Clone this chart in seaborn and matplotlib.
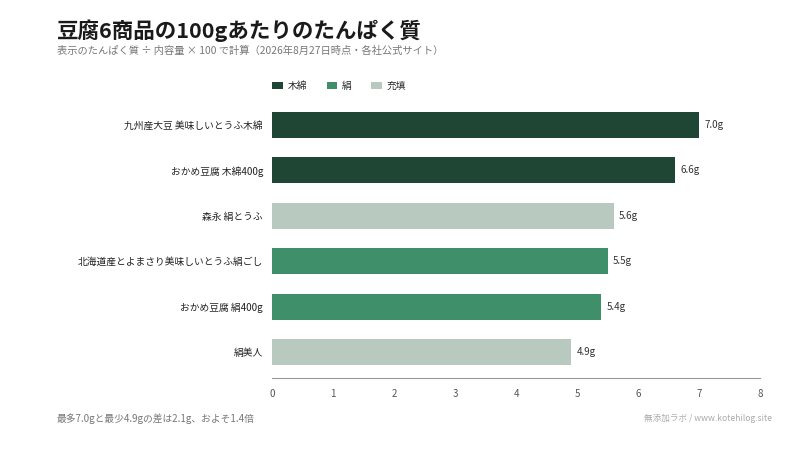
import pandas as pd
import matplotlib.pyplot as plt
import seaborn as sns

# values
products = ['九州産大豆 美味しいとうふ木綿', 'おかめ豆腐 木綿400g', '森永 絹とうふ',
            '北海道産とよまさり美味しいとうふ絹ごし', 'おかめ豆腐 絹400g', '絹美人']
protein = [7.0, 6.6, 5.6, 5.5, 5.4, 4.9]
kind = ['木綿', '木綿', '充填', '絹', '絹', '充填']
kind_order = ['木綿', '絹', '充填']
colors = {'木綿': '#1f4535', '絹': '#3f8f6a', '充填': '#b8c9bf'}

df = pd.DataFrame({'product': products, 'protein': protein, 'kind': kind})

sns.set_theme(style='white')
plt.rcParams['font.family'] = ['Noto Sans CJK JP', 'DejaVu Sans']

fig = plt.figure(figsize=(8, 4.5), dpi=100)
ax = fig.add_axes([0.34, 0.16, 0.61, 0.615])

sns.barplot(data=df, y='product', x='protein', hue='kind', hue_order=kind_order,
            order=products, palette=colors, dodge=False, width=0.575,
            saturation=1, linewidth=0, ax=ax, legend=True)

for c in ax.containers:
    ax.bar_label(c, fmt='{:.1f}g', padding=4, fontsize=7, color='#333333')

ax.set_xlim(0, 8)
ax.set_ylim(5.57, -0.52)
ax.set_xticks(range(0, 9))
ax.set_xlabel('')
ax.set_ylabel('')
ax.tick_params(axis='x', labelsize=7, colors='#555555', length=4, width=0.8,
               direction='out', pad=4)
ax.tick_params(axis='y', labelsize=7, colors='#222222', length=0, pad=6.5)
for s in ['top', 'right', 'left']:
    ax.spines[s].set_visible(False)
ax.spines['bottom'].set_color('#999999')
ax.spines['bottom'].set_linewidth(0.8)

ax.legend(loc='lower left', bbox_to_anchor=(0.34, 0.798), bbox_transform=fig.transFigure,
          ncol=3, frameon=False, fontsize=7, handlelength=1.1, handleheight=0.8,
          handletextpad=0.5, columnspacing=2.0, borderaxespad=0, borderpad=0)

fig.text(0.071, 0.932, '豆腐6商品の100gあたりのたんぱく質', fontsize=15.5,
         fontweight='bold', color='#1a1a1a', va='center')
fig.text(0.071, 0.886, '表示のたんぱく質 ÷ 内容量 × 100 で計算（2026年8月27日時点・各社公式サイト）',
         fontsize=7.4, color='#777777', va='center')
fig.text(0.071, 0.069, '最多7.0gと最少4.9gの差は2.1g、およそ1.4倍',
         fontsize=7, color='#777777', va='center')
fig.text(0.965, 0.069, '無添加ラボ / www.kotehilog.site',
         fontsize=6.2, color='#aaaaaa', va='center', ha='right')

fig.savefig('out.png', dpi=100)
